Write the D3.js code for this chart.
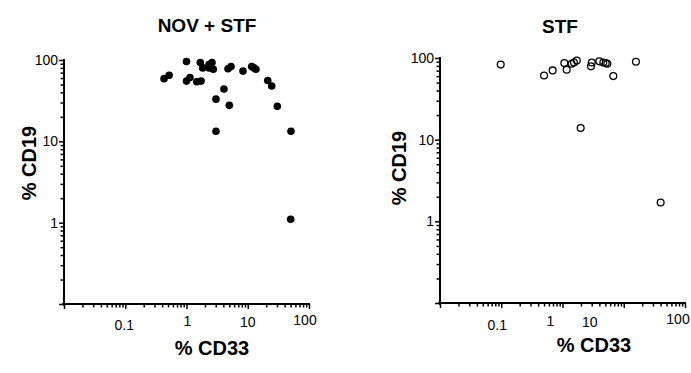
<!DOCTYPE html>
<html>
<head>
<meta charset="utf-8">
<style>
  body { margin: 0; background: #fff; }
  text { font-family: "Liberation Sans", Arial, sans-serif; fill: #000; }
</style>
</head>
<body>
<script src="https://cdn.jsdelivr.net/npm/d3@7/dist/d3.min.js"></script>
<script>

  // *** DATA ***

  var titles = ["NOV + STF", "STF"];
  var xTitle = "% CD33";
  var yTitle = "% CD19";

  var xTicks = [0.1, 1, 10, 100];
  var xTickLabels = ["0.1", "1", "10", "100"];
  var yTicks = [1, 10, 100];
  var yTickLabels = ["1", "10", "100"];

  // NOV + STF (filled)
  var novX = [0.43, 0.52, 1.0, 1.0, 1.14, 1.47, 1.73, 1.68, 1.84, 2.33, 2.33, 2.61, 2.74, 3.03, 3.03,
              4.09, 5.0, 4.76, 5.33, 8.36, 11.6, 12.6, 13.6, 21.2, 24.6, 30.4, 50.8, 50.2];
  var novY = [59, 65, 96, 55, 61, 54, 55, 93, 80, 88, 80, 93, 77, 33, 13.3,
              44, 27.7, 78, 83, 73, 83, 80, 77, 56, 48, 27, 13.3, 1.1];

  // STF (open)
  var stfX = [0.098, 0.50, 0.69, 1.07, 1.17, 1.41, 1.54, 1.71, 1.98, 2.92, 3.0, 3.99, 4.64, 5.08, 5.4,
              6.75, 15.8, 40];
  var stfY = [83, 61, 70.5, 87, 72, 85, 88, 93, 13.9, 79, 88, 91, 88, 87, 85,
              60, 90, 1.7];

  // *** LAYOUT ***

  var W = 691, H = 373;

  var panels = [
    {title: titles[0], xs: novX, ys: novY, filled: true,
     left: 64, right: 309, top: 60, bottom: 304,
     titleX: 207, titleY: 32, xTitleX: 212, xTitleY: 355, yTitleX: 36, yTitleY: 163,
     // label nudges [dx, dy] as they sit in the picture
     xNudge: [[-1, 5], [1, 1], [0, 2], [-4, 0]]},
    {title: titles[1], xs: stfX, ys: stfY, filled: false,
     left: 440, right: 685, top: 58, bottom: 303,
     titleX: 560, titleY: 33, xTitleX: 594, xTitleY: 352, yTitleX: 406, yTitleY: 168,
     xNudge: [[-4, 6], [-12, 2], [-34, 3], [-7, 0]]}
  ];

  // minor tick values for each decade
  function logTicks(e0, e1) {
    var out = [];
    for (var e = e0; e <= e1; e++) {
      for (var k = 1; k <= 9; k++) out.push(k * Math.pow(10, e));
    }
    out.push(Math.pow(10, e1 + 1));
    return out;
  }

  function isMajor(d) {
    return Math.abs(Math.log10(d) - Math.round(Math.log10(d))) < 1e-6;
  }

  var svg = d3.select("body").append("svg")
    .attr("width", W)
    .attr("height", H);

  panels.forEach(function(p) {

    var x = d3.scaleLog().domain([0.01, 100]).range([p.left, p.right]);
    var y = d3.scaleLog().domain([0.1, 100]).range([p.bottom, p.top]);

    var g = svg.append("g");

    // X AXIS
    var gx = g.append("g")
      .attr("transform", "translate(0," + p.bottom + ")")
      .call(d3.axisBottom(x).tickValues(logTicks(-2, 1)).tickSize(3.5).tickSizeOuter(0).tickFormat(""));
    gx.selectAll(".tick line").attr("y2", function(d) { return isMajor(d) ? 5 : 3.5; });
    gx.select(".domain").attr("d", "M" + (p.left - 2) + ",0H" + (p.right + 1));

    // Y AXIS
    var gy = g.append("g")
      .attr("transform", "translate(" + p.left + ",0)")
      .call(d3.axisLeft(y).tickValues(logTicks(-1, 1)).tickSize(3.5).tickSizeOuter(0).tickFormat(""));
    gy.selectAll(".tick line").attr("x2", function(d) { return isMajor(d) ? -5 : -3.5; });
    gy.select(".domain").attr("d", "M0," + (p.top - 1) + "V" + (p.bottom + 2));

    g.selectAll(".domain").attr("stroke", "#000").attr("stroke-width", 2);
    g.selectAll(".tick line").attr("stroke", "#000").attr("stroke-width", 1.5);

    // tick labels
    g.selectAll(".xlab").data(xTicks).enter().append("text")
      .attr("class", "xlab")
      .attr("x", function(d, i) { return x(d) + p.xNudge[i][0]; })
      .attr("y", function(d, i) { return p.bottom + 21 + p.xNudge[i][1]; })
      .attr("text-anchor", "middle")
      .style("font-size", "14px")
      .text(function(d, i) { return xTickLabels[i]; });

    g.selectAll(".ylab").data(yTicks).enter().append("text")
      .attr("class", "ylab")
      .attr("x", p.left - 6)
      .attr("y", function(d) { return y(d) + 5; })
      .attr("text-anchor", "end")
      .style("font-size", "14px")
      .text(function(d, i) { return yTickLabels[i]; });

    // titles
    g.append("text")
      .attr("x", p.titleX).attr("y", p.titleY)
      .attr("text-anchor", "middle")
      .style("font-size", "19px").style("font-weight", "bold")
      .text(p.title);

    g.append("text")
      .attr("x", p.xTitleX).attr("y", p.xTitleY)
      .attr("text-anchor", "middle")
      .style("font-size", "20px").style("font-weight", "bold")
      .text(xTitle);

    g.append("text")
      .attr("transform", "translate(" + p.yTitleX + "," + p.yTitleY + ") rotate(-90)")
      .attr("text-anchor", "middle")
      .style("font-size", "20px").style("font-weight", "bold")
      .text(yTitle);

    // POINTS
    var pts = p.xs.map(function(v, i) { return {x: v, y: p.ys[i]}; });
    g.selectAll("circle").data(pts).enter().append("circle")
      .attr("cx", function(d) { return x(d.x); })
      .attr("cy", function(d) { return y(d.y); })
      .attr("r", p.filled ? 3.8 : 3.4)
      .attr("fill", p.filled ? "#000" : "none")
      .attr("stroke", "#000")
      .attr("stroke-width", p.filled ? 0 : 1.3);
  });

</script>
</body>
</html>
